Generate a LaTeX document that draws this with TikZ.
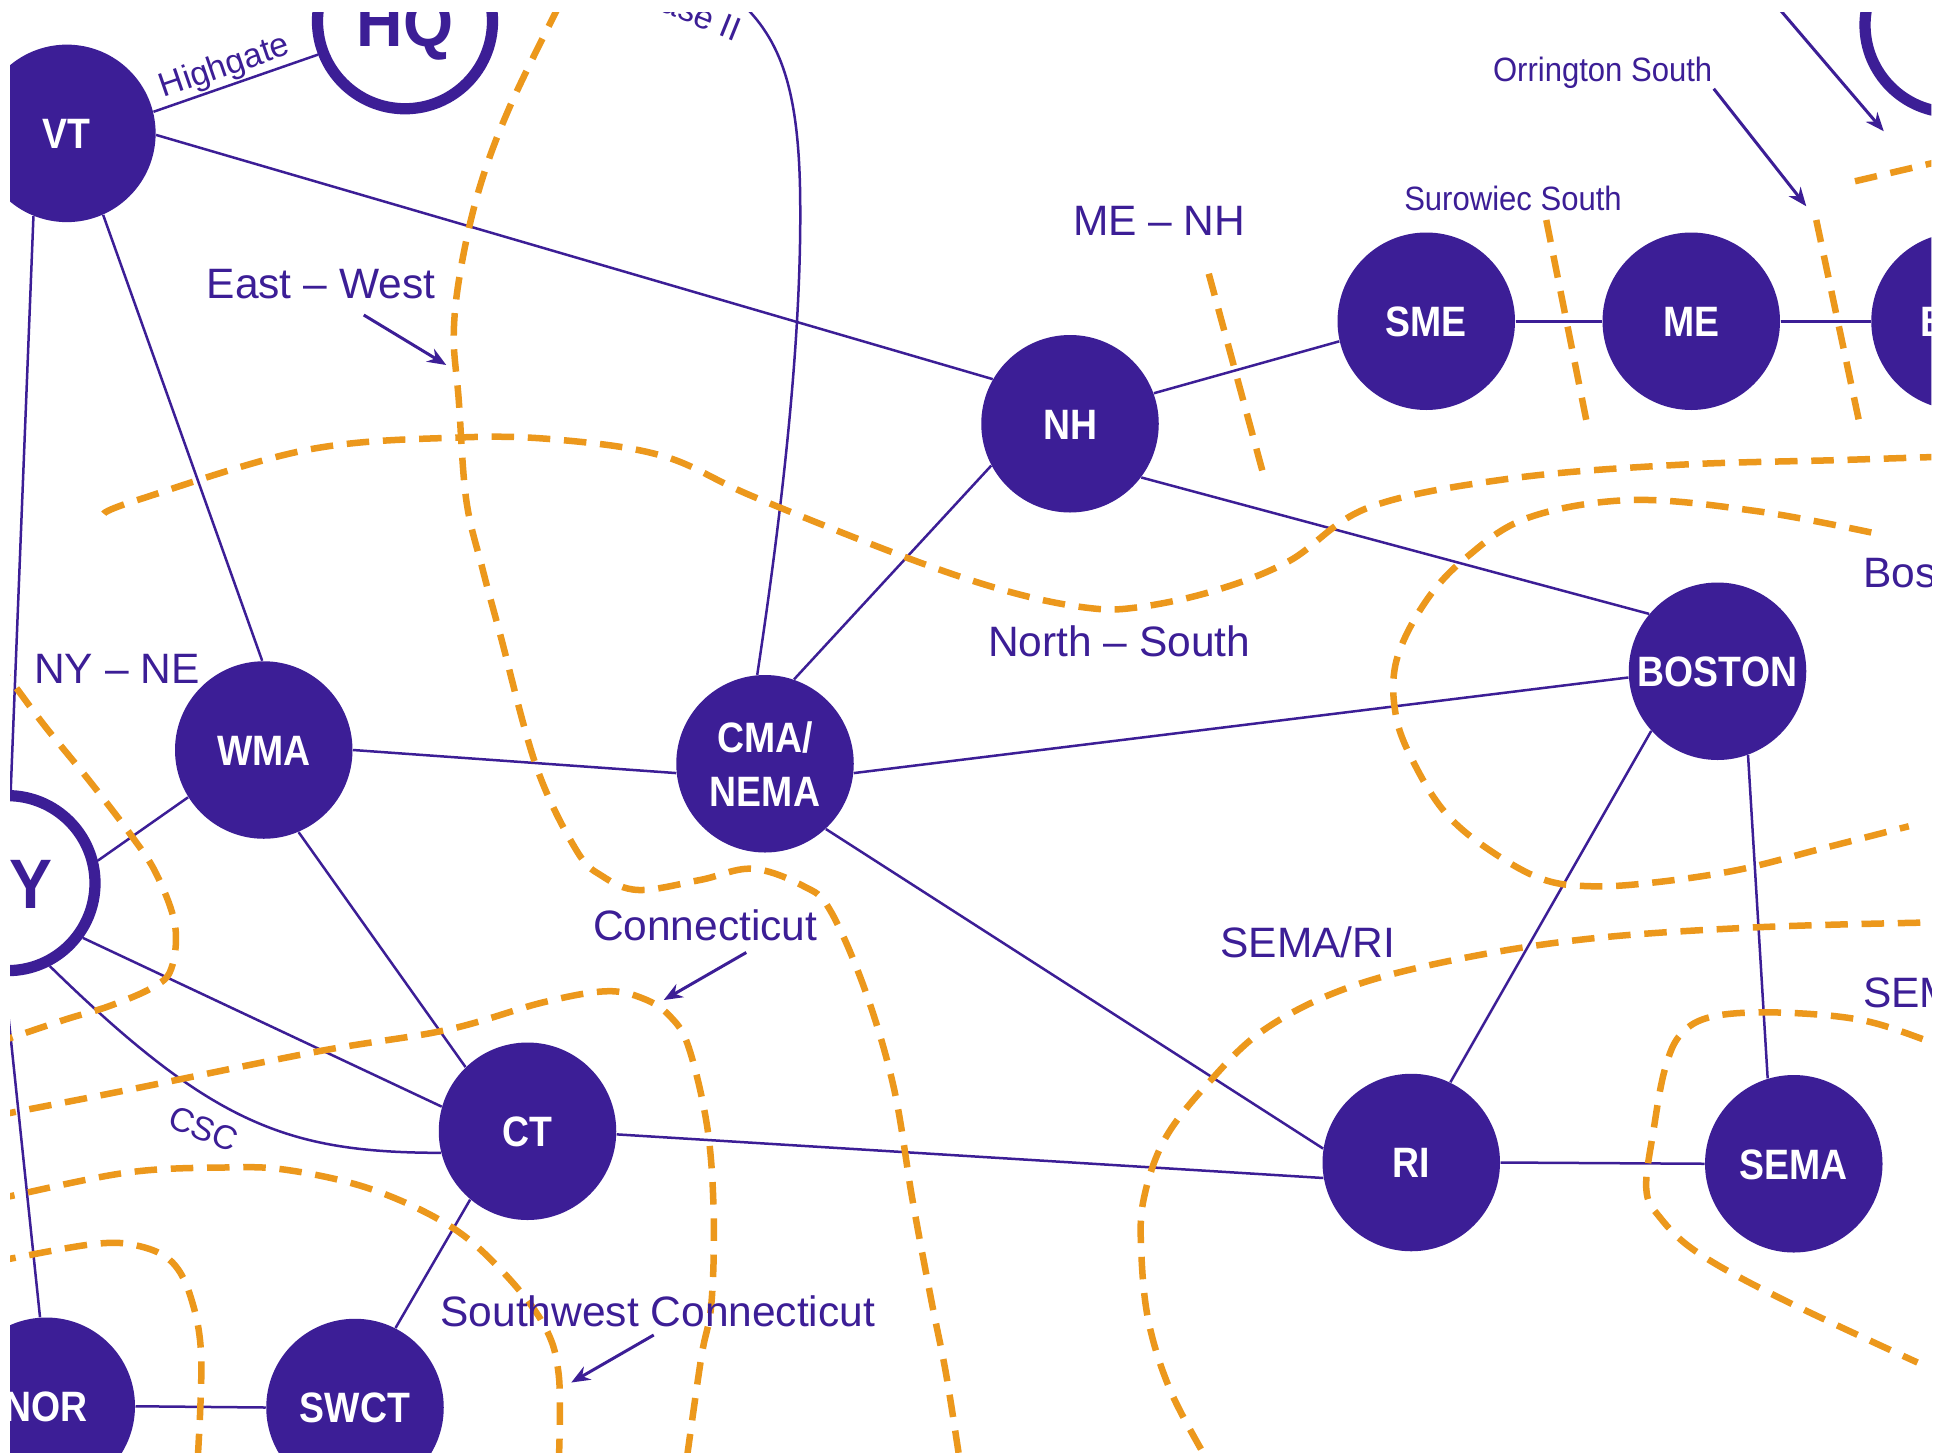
\documentclass[tikz,border=0pt]{standalone}
\usepackage{fontspec}
\setmainfont{Liberation Sans}
\newfontfamily\zonefont[FakeStretch=0.88]{Liberation Sans}
\newfontfamily\hubfont[FakeStretch=0.92]{Liberation Sans}
\newfontfamily\tagfont[FakeStretch=0.92]{Liberation Sans}
\usepackage{tikz}
\definecolor{zonepurple}{RGB}{60, 30, 150}
\definecolor{ifaceorange}{RGB}{236, 152, 28}
\usetikzlibrary{arrows.meta}

\begin{document}
\begin{tikzpicture}[
    x=0.5pt, y=-0.5pt,
    zone/.style={
        circle,
        fill=zonepurple,
        minimum size=71pt,
        inner sep=0pt,
        text=white,
        font=\zonefont\bfseries\fontsize{17}{22}\selectfont,
        text height=12.2pt,
        text depth=0pt
    },
    hub/.style={
        circle,
        draw=zonepurple,
        line width=4.5pt,
        minimum size=70pt,
        inner sep=0pt,
        text=zonepurple,
        font=\hubfont\bfseries\fontsize{28}{30}\selectfont,
        text height=20pt,
        text depth=0pt
    },
    tie/.style={draw=zonepurple, line width=1pt},
    iface/.style={draw=ifaceorange, line width=2.6pt, dash pattern=on 9pt off 5.5pt},
    region/.style={text=zonepurple, font=\fontsize{17}{20}\selectfont, anchor=base west, inner sep=0pt},
    tag/.style={text=zonepurple, font=\tagfont\fontsize{13.5}{16}\selectfont, anchor=base west, inner sep=0pt},
    linelabel/.style={text=zonepurple, font=\fontsize{13.5}{16}\selectfont, inner sep=0pt},
    pointer/.style={draw=zonepurple, line width=1.2pt, -{Stealth[length=7.5pt,width=6pt]}}
]
    \useasboundingbox (0,0) rectangle (1561.6,1161.6);
    \fill[white] (0,0) rectangle (1561.6,1161.6);

    \begin{scope}
    \clip (8,9.6) rectangle (1545,1161.6);

    % Zones
    \node[zone] (vt) at (53.5,106.7) {VT};
    \node[zone] (nh) at (856,339) {NH};
    \node[zone] (sme) at (1141,257) {SME};
    \node[zone] (me) at (1353,257) {ME};
    \node[zone] (bhe) at (1568,257) {BHE};
    \node[zone] (boston) at (1374,537) {BOSTON};
    \node[zone] (wma) at (211,600) {WMA};
    \node[zone, align=center, text height=34.2pt] (cma) at (612,611) {CMA/\\[-0.2pt]NEMA};
    \node[zone] (ct) at (422,905) {CT};
    \node[zone] (ri) at (1129,930) {RI};
    \node[zone] (sema) at (1435,931) {SEMA};
    \node[zone] (swct) at (284,1126) {SWCT};
    \node[zone] (nor) at (37,1125) {NOR};

    % Neighbouring areas
    \node[hub] (hq) at (324,17) {HQ};
    \node[hub] (ny) at (6,706.5) {NY};
    \node[hub] (nbring) at (1562,20) {};

    % Ties
    \draw[tie] (vt.14) -- (hq.201);
    \draw[tie] (vt.-1) -- (nh.150);
    \draw[tie] (vt.-66) -- (wma.91);
    \draw[tie] (vt.-112) -- (ny.88);
    \draw[tie] (nh.20) -- (sme.193);
    \draw[tie] (nh.-37) -- (boston.140);
    \draw[tie] (nh.208) -- (cma.71);
    \draw[tie] (sme.east) -- (me.west);
    \draw[tie] (me.east) -- (bhe.west);
    \draw[tie] (boston.184) -- (cma.-6);
    \draw[tie] (boston.222) -- (ri.64);
    \draw[tie] (boston.-70) -- (sema.107);
    \draw[tie] (cma.186) -- (wma.0);
    \draw[tie] (cma.-47) -- (ri.171);
    \draw[tie] (wma.212) -- (ny.14);
    \draw[tie] (wma.-67) -- (ct.134);
    \draw[tie] (ny.-36) -- (ct.164);
    \draw[tie] (ny.-63) .. controls (170,900) and (230,922) .. (ct.194);
    \draw[tie] (ct.-2) -- (ri.190);
    \draw[tie] (ct.230) -- (swct.63);
    \draw[tie] (ri.east) -- (sema.west);
    \draw[tie] (nor.east) -- (swct.west);
    \draw[tie] (ny.-92) -- (nor.94);
    \coordinate (ph2) at (585,-5);
    \draw[tie] (cma.95) .. controls (630,380) and (642,250) .. (640,150)
        .. controls (638,60) and (620,25) .. (ph2);

    % Tie labels
    \node[linelabel, rotate=19] (highgate) at (180,54) {Highgate};
    \node[linelabel, rotate=-22] (csc) at (163,903) {CSC};
    \node[linelabel, rotate=-22] (phase) at (546,6) {Phase II};

    % Interfaces
    \draw[iface] plot[smooth, tension=0.6] coordinates {(447,5) (408,85) (384,149) (369,213) (363,267) (367,320) (373,400) (386,455) (400,507) (429,613) (461,680) (482,701) (511,712) (560,704) (602,695) (643,709) (664,728) (692,792) (715,870) (730,960) (745,1040) (757,1100) (768,1170)};
    \draw[iface] plot[smooth, tension=0.6] coordinates {(-5,528) (9,545) (36,581) (71,624) (104,667) (125,699) (140,740) (137,775) (122,790) (87,805) (51,816) (-5,835)};
    \draw[iface] plot[smooth, tension=0.6] coordinates {(-5,893) (15,889) (102,872) (255,841) (357,824) (434,802) (485,793) (515,799) (536,813) (551,838) (566,903) (571,974) (569,1044) (561,1086) (549,1170)};
    \draw[iface] plot[smooth, tension=0.6] coordinates {(-5,960) (8,957) (102,938) (179,934) (230,936) (296,951) (357,979) (398,1013) (434,1058) (447,1100) (447,1170)};
    \draw[iface] plot[smooth, tension=0.6] coordinates {(-5,1010) (8,1007) (77,995) (112,997) (138,1010) (153,1039) (161,1086) (158,1170)};
    \draw[iface] plot[smooth, tension=0.6] coordinates {(83,411) (110,400) (245,360) (367,350) (449,352) (531,365) (602,397) (725,446) (806,473) (868,486) (909,486) (970,473) (1031,449) (1095,406) (1207,383) (1340,372) (1473,368) (1565,365)};
    \draw[iface] plot[smooth, tension=0.6] coordinates {(1497,426) (1406,409) (1306,400) (1223,414) (1173,446) (1140,482) (1117,529) (1117,574) (1133,614) (1157,651) (1190,679) (1233,703) (1273,709) (1323,706) (1390,696) (1457,679) (1527,661)};
    \draw[iface] plot[smooth, tension=0.6] coordinates {(1565,738) (1541,738) (1402,742) (1271,751) (1163,768) (1076,791) (1011,824) (967,866) (932,911) (915,959) (913,1001) (919,1058) (937,1114) (967,1170)};
    \draw[iface] plot[smooth, tension=0.6] coordinates {(1565,842) (1543,833) (1489,816) (1423,810) (1371,813) (1345,827) (1332,855) (1323,903) (1317,951) (1328,974) (1358,1002) (1423,1038) (1534,1090)};
    \draw[iface] (967,219) -- (1010,377);
    \draw[iface] (1237,176) -- (1269,336);
    \draw[iface] (1453,176) -- (1487,336);
    \draw[iface] (1484,145) -- (1565,126);

    % Interface names
    \node[region] (ew) at (165,239) {East -- West};
    \node[region] (menh) at (858,188) {ME -- NH};
    \node[region] (ns) at (790,525) {North -- South};
    \node[region] (nyne) at (27,547) {NY -- NE};
    \node[region] (conn) at (474,752) {Connecticut};
    \node[region] (semari) at (976,766) {SEMA/RI};
    \node[region] (swconn) at (352,1061) {Southwest Connecticut};
    \node[region] (bostonif) at (1490,470) {Boston};
    \node[region] (semaif) at (1490,806) {SEMA};
    \node[tag] (surowiec) at (1123,168) {Surowiec South};
    \node[tag] (orrington) at (1194,65) {Orrington South};

    % Pointers
    \coordinate (ewfrom) at (291,252);
    \coordinate (ewto) at (357,292);
    \coordinate (connfrom) at (597,762);
    \coordinate (connto) at (531,800);
    \coordinate (swfrom) at (523,1068);
    \coordinate (swto) at (457,1106);
    \coordinate (orrfrom) at (1371,71);
    \coordinate (orrto) at (1445,165);
    \coordinate (topfrom) at (1396,-25);
    \coordinate (topto) at (1507,105);
    \draw[pointer] (ewfrom) -- (ewto);
    \draw[pointer] (connfrom) -- (connto);
    \draw[pointer] (swfrom) -- (swto);
    \draw[pointer] (orrfrom) -- (orrto);
    \draw[pointer] (topfrom) -- (topto);
    \end{scope}
\end{tikzpicture}
\end{document}
